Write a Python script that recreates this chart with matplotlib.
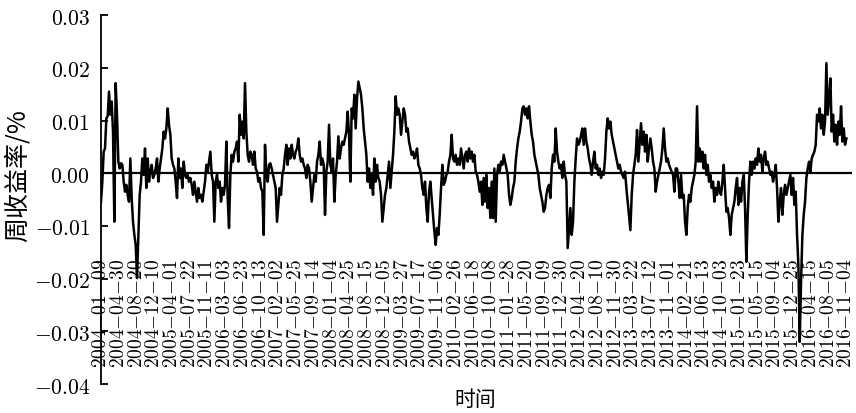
import numpy as np
import matplotlib.pyplot as plt
from matplotlib.ticker import FuncFormatter

plt.rcParams['font.family'] = ['Noto Sans CJK SC', 'DejaVu Sans']
plt.rcParams['mathtext.fontset'] = 'cm'

# weekly return readings, in time order (split by period)
ret_2004_2006 = [
    -0.0054, -0.0016, 0.0041, 0.0047, 0.0104, 0.0108, 0.0155, 0.0111, 0.0136, 0.0079,
    -0.0092, 0.0171, 0.0111, 0.0022, 0.0009, 0.0019, 0.0016, -0.0016, -0.0035, -0.0022,
    -0.0041, -0.0054, 0.0028, -0.0047, -0.0092, -0.0117, -0.0136, -0.0199, -0.0117, -0.0041,
    -0.0016, 0.0028, -0.0003, 0.0047, -0.0028, 0.0028, -0.0016, 0.0003, 0.0016, -0.0009,
    -0.0003, 0.0009, 0.0028, -0.0016, 0.0009, 0.0028, 0.0047, 0.0079, 0.0066, 0.0085,
    0.0123, 0.0092, 0.0073, 0.0028, 0.0016, 0.0009, -0.0016, -0.0047, 0.0028, -0.0009,
    0.0009, -0.0028, 0.0022, -0.0003, -0.0009, -0.0003, -0.0016, -0.0009, -0.0022, -0.0041,
    -0.0016, -0.0035, -0.0054, -0.0028, -0.0047, -0.0041, -0.0054, -0.0035, -0.0016, 0.0016,
    0.0003, 0.0022, 0.0041, -0.0003, -0.0016, -0.0092, -0.0016, -0.0003, -0.0028, -0.0016,
    -0.0054, -0.0028, -0.0041, -0.0022, 0.0060, -0.0047, -0.0104, -0.0003, 0.0035, 0.0022,
    0.0041, 0.0047, 0.0060, 0.0022, 0.0111, 0.0073, 0.0098, 0.0066, 0.0171, 0.0079,
    0.0035, 0.0022,
]
ret_2006_2009 = [
    0.0041, 0.0035, 0.0016, 0.0041, 0.0009, 0.0003, -0.0016, -0.0009, -0.0028, -0.0035,
    -0.0117, 0.0054, -0.0003, -0.0016, 0.0016, 0.0019, 0.0009, -0.0003, -0.0016, -0.0028,
    -0.0092, -0.0060, -0.0028, -0.0041, -0.0003, 0.0009, 0.0035, 0.0054, 0.0016, 0.0047,
    0.0028, 0.0054, 0.0035, 0.0028, 0.0041, 0.0047, 0.0066, 0.0035, 0.0022, 0.0028,
    0.0016, 0.0009, -0.0009, 0.0016, 0.0009, -0.0016, -0.0054, -0.0028, -0.0003, -0.0016,
    0.0022, 0.0035, 0.0060, 0.0016, 0.0028, 0.0016, -0.0079, 0.0003, 0.0022, 0.0092,
    0.0016, 0.0003, 0.0028, -0.0054, -0.0003, 0.0022, 0.0070, 0.0028, 0.0047, 0.0060,
    0.0054, 0.0066, 0.0079, 0.0117, 0.0073, -0.0016, 0.0123, 0.0104, 0.0149, 0.0085,
    0.0142, 0.0174, 0.0161, 0.0149, 0.0123, 0.0085, 0.0060, 0.0035, -0.0016, 0.0009,
    -0.0028, -0.0003, -0.0041, 0.0028, -0.0016, 0.0016, -0.0009, -0.0016, -0.0041, -0.0092,
    -0.0066, -0.0041, -0.0028, -0.0003, 0.0022, -0.0028, 0.0003, 0.0035, 0.0079, 0.0146,
    0.0111, 0.0123, 0.0111,
]
ret_2009_2011 = [
    0.0073, 0.0098, 0.0123, 0.0111, 0.0079, 0.0085, 0.0060, 0.0047, 0.0035, 0.0041,
    0.0028, 0.0035, 0.0047, 0.0016, 0.0009, -0.0003, -0.0028, -0.0041, -0.0016, -0.0066,
    -0.0092, -0.0035, -0.0016, -0.0047, -0.0079, -0.0111, -0.0136, -0.0104, -0.0117, -0.0079,
    -0.0028, 0.0016, -0.0022, -0.0016, -0.0003, 0.0003, 0.0022, 0.0035, 0.0073, 0.0028,
    0.0022, 0.0035, 0.0016, 0.0028, 0.0016, 0.0047, 0.0028, 0.0009, 0.0035, 0.0041,
    0.0022, 0.0047, 0.0028, 0.0041, 0.0022, 0.0035, 0.0003, -0.0003, -0.0016, -0.0035,
    -0.0016, -0.0060, -0.0009, -0.0054, -0.0003, -0.0066, -0.0028, -0.0085, -0.0016, -0.0085,
    0.0009, -0.0092, -0.0003, 0.0016, 0.0003, 0.0022, 0.0016, 0.0035, 0.0022, 0.0009,
    -0.0003, -0.0041, -0.0060, -0.0047, -0.0028, -0.0016, 0.0022, 0.0047, 0.0066, 0.0079,
    0.0098, 0.0123, 0.0127, 0.0111, 0.0123, 0.0104, 0.0127, 0.0098, 0.0073, 0.0060,
    0.0035, 0.0022, 0.0009, -0.0003, -0.0028, -0.0041, -0.0054, -0.0073, -0.0066, -0.0041,
    -0.0028, -0.0022,
]
ret_2011_2014 = [
    -0.0047, 0.0009, 0.0035, 0.0022, 0.0085, 0.0041, 0.0022, 0.0009, 0.0016, -0.0009,
    0.0022, -0.0003, -0.0016, -0.0142, -0.0104, -0.0066, -0.0117, -0.0092, -0.0016, 0.0028,
    0.0066, 0.0054, 0.0060, 0.0073, 0.0085, 0.0054, 0.0085, 0.0060, 0.0047, 0.0028,
    0.0016, -0.0003, 0.0022, 0.0041, 0.0009, 0.0016, -0.0003, 0.0009, -0.0009, 0.0003,
    -0.0003, 0.0028, 0.0079, 0.0104, 0.0085, 0.0098, 0.0073, 0.0060, 0.0047, 0.0035,
    0.0022, 0.0009, 0.0016, 0.0003, -0.0003, -0.0009, 0.0003, -0.0028, -0.0054, -0.0079,
    -0.0108, -0.0041, -0.0003, 0.0016, 0.0035, 0.0082, 0.0022, 0.0060, 0.0095, 0.0054,
    0.0079, 0.0041, 0.0073, 0.0022, 0.0047, 0.0066, 0.0047, 0.0022, 0.0009, -0.0035,
    -0.0016, -0.0003, 0.0009, 0.0022, 0.0047, 0.0085, 0.0047, 0.0022, 0.0028, 0.0016,
    0.0009, 0.0003, -0.0003, -0.0035, 0.0009, 0.0009, -0.0016, -0.0047, -0.0003, -0.0047,
    -0.0041, -0.0092, -0.0117, -0.0066, -0.0041, -0.0054, -0.0028, -0.0016, -0.0003, 0.0022,
    0.0127, 0.0022, 0.0047,
]
ret_2014_2016 = [
    0.0022, 0.0041, 0.0009, 0.0035, -0.0003, 0.0016, -0.0016, -0.0003, -0.0028, -0.0016,
    -0.0054, -0.0028, -0.0041, -0.0016, -0.0035, -0.0041, -0.0016, 0.0016,
    -0.0028, -0.0073, -0.0066, -0.0085, -0.0117, -0.0079, -0.0066, -0.0054, -0.0028, -0.0009,
    -0.0060, -0.0028, -0.0054, -0.0016, -0.0003, -0.0066, -0.0168, -0.0079, -0.0016, 0.0022,
    -0.0003, 0.0022, 0.0009, 0.0028, 0.0016, 0.0047, 0.0022, 0.0035, 0.0003, 0.0028,
    0.0041, 0.0016, 0.0022, 0.0009, -0.0003, 0.0003, -0.0016, -0.0003, 0.0016,
    -0.0028, -0.0092, -0.0054, -0.0028, -0.0079, -0.0041, -0.0022, -0.0041, -0.0028, -0.0016,
    -0.0003, -0.0041, -0.0009, -0.0060, -0.0035, -0.0117, -0.0174, -0.0320, -0.0206, -0.0117,
    -0.0079, -0.0054, -0.0009, 0.0009, 0.0022, 0.0003, 0.0028, 0.0035, 0.0041,
    0.0054, 0.0111, 0.0098, 0.0123, 0.0085, 0.0111, 0.0073, 0.0098, 0.0209, 0.0111,
    0.0142, 0.0180, 0.0079, 0.0111, 0.0060, 0.0092, 0.0054, 0.0098, 0.0073, 0.0127,
    0.0060, 0.0085, 0.0054, 0.0066,
]

tick_dates = [
    '2004-01-09', '2004-04-30', '2004-08-20', '2004-12-10', '2005-04-01', '2005-07-22',
    '2005-11-11', '2006-03-03', '2006-06-23', '2006-10-13', '2007-02-02', '2007-05-25',
    '2007-09-14', '2008-01-04', '2008-04-25', '2008-08-15', '2008-12-05', '2009-03-27',
    '2009-07-17', '2009-11-06', '2010-02-26', '2010-06-18', '2010-10-08', '2011-01-28',
    '2011-05-20', '2011-09-09', '2011-12-30', '2012-04-20', '2012-08-10', '2012-11-30',
    '2013-03-22', '2013-07-12', '2013-11-01', '2014-02-21', '2014-06-13', '2014-10-03',
    '2015-01-23', '2015-05-15', '2015-09-04', '2015-12-25', '2016-04-15', '2016-08-05',
    '2016-11-04',
]

returns = np.array(ret_2004_2006 + ret_2006_2009 + ret_2009_2011 + ret_2011_2014 + ret_2014_2016)
x = np.arange(len(returns))
tick_pos = np.linspace(0, len(returns) - 1, len(tick_dates))   # category-style, evenly spaced

fig = plt.figure(figsize=(8.56, 4.14), dpi=100)
ax = fig.add_axes([0.118, 0.070, 0.877, 0.891])

ax.plot(x, returns, color='black', lw=1.8)
ax.axhline(0, color='black', lw=1.6)

ax.set_xlim(0, len(returns) + 3)
ax.set_ylim(-0.04, 0.03)
ax.set_yticks(np.arange(-0.04, 0.031, 0.01))
ax.yaxis.set_major_formatter(FuncFormatter(lambda v, p: '$%.2f$' % (round(v, 2) + 0.0)))

ax.set_xticks(tick_pos)
ax.set_xticklabels(['$' + d.replace('-', '{-}') + '$' for d in tick_dates],
                   rotation=90, va='bottom', fontfamily='cmr10')
ax.tick_params(axis='x', length=0, pad=-12, labelsize=14)
ax.tick_params(axis='y', direction='in', length=5, width=1.3, pad=8, labelsize=15.5)

for s in ['top', 'right', 'bottom']:
    ax.spines[s].set_visible(False)
ax.spines['left'].set_linewidth(1.3)

fig.text(0.021, 0.575, '周收益率/%', rotation=90, ha='center', va='center', fontsize=18)
fig.text(0.555, 0.034, '时间', ha='center', va='center', fontsize=15)

fig.savefig('out.png', dpi=100)
